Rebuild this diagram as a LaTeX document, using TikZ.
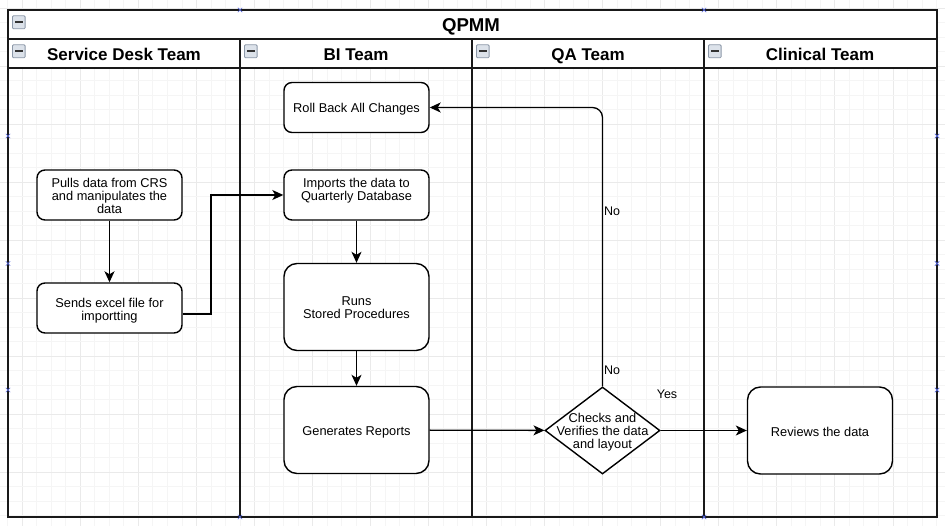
\documentclass[tikz,border=0pt]{standalone}
\usepackage{fontspec}
\setmainfont{Liberation Sans}
\usetikzlibrary{arrows.meta,shapes.geometric}
\definecolor{gridminor}{HTML}{F5F5F5}
\definecolor{gridmajor}{HTML}{EAEAEA}
\definecolor{selx}{HTML}{5566DD}
\definecolor{iconborder}{HTML}{8C98A8}
\definecolor{iconfill}{HTML}{DCE2EA}
\tikzset{
  proc/.style={draw=black, fill=white, line width=1.4pt, rounded corners=8pt,
    inner sep=0pt, minimum width=145pt, minimum height=50pt},
  bigproc/.style={proc, rounded corners=13pt, minimum height=87pt},
  decision/.style={diamond, draw=black, fill=white, line width=1.4pt, inner sep=0pt,
    minimum width=115pt, minimum height=87pt},
  txt/.style={align=center, font=\fontsize{12.8}{13}\selectfont, inner sep=0pt},
  lanetitle/.style={font=\fontsize{17}{18}\selectfont\bfseries, inner sep=0pt, anchor=base},
  pooltitle/.style={font=\fontsize{18.6}{20}\selectfont\bfseries, inner sep=0pt, anchor=base},
  edge/.style={line width=1.3pt, -{Stealth[length=11pt,width=10pt,inset=3pt]}},
  lbl/.style={font=\fontsize{12.5}{13}\selectfont, inner sep=0pt},
  poolline/.style={line width=2pt, draw=black!90},
  selmark/.style={draw=selx, line width=0.7pt},
}
\newcommand{\minusicon}[2]{%
  \draw[draw=iconborder, fill=iconfill, line width=0.8pt, rounded corners=1pt] (#1-6.3,#2-6.5) rectangle (#1+6.3,#2+6.5);
  \draw[line width=2pt, black!80] (#1-3.8,#2) -- (#1+3.8,#2);}
\newcommand{\selx}[2]{%
  \draw[selmark] (#1-2.2,#2-2.2) -- (#1+2.2,#2+2.2) (#1-2.2,#2+2.2) -- (#1+2.2,#2-2.2);}
\begin{document}
\begin{tikzpicture}[x=1pt,y=-1pt]
\useasboundingbox (0,0) rectangle (945,526);
\fill[white] (0,0) rectangle (945,526);
% grid
\foreach \i in {0,...,65} {
  \pgfmathtruncatemacro{\m}{mod(\i,4)}
  \ifnum\m=1 \draw[gridmajor, line width=0.8pt] (7.79+14.51*\i,0) -- (7.79+14.51*\i,526);
  \else \draw[gridminor, line width=0.8pt] (7.79+14.51*\i,0) -- (7.79+14.51*\i,526); \fi
}
\foreach \j in {0,...,36} {
  \pgfmathtruncatemacro{\m}{mod(\j,4)}
  \ifnum\m=0 \draw[gridmajor, line width=0.8pt] (0,8.3+14.5*\j) -- (945,8.3+14.5*\j);
  \else \draw[gridminor, line width=0.8pt] (0,8.3+14.5*\j) -- (945,8.3+14.5*\j); \fi
}
% pool
\fill[white] (8,10) rectangle (937,68);
\draw[poolline] (8,10) rectangle (937,517);
\draw[poolline] (8,39) -- (937,39);
\draw[poolline] (8,68) -- (937,68);
\draw[poolline] (240,39) -- (240,517);
\draw[poolline] (472,39) -- (472,517);
\draw[poolline] (704,39) -- (704,517);
\node[pooltitle] (title) at (471,32) {QPMM};
\node[lanetitle] (lane1) at (124,61) {Service Desk Team};
\node[lanetitle] (lane2) at (356,61) {BI Team};
\node[lanetitle] (lane3) at (588,61) {QA Team};
\node[lanetitle] (lane4) at (820,61) {Clinical Team};
\minusicon{18.8}{22.3}
\minusicon{18.8}{51.3}
\minusicon{250.8}{51.3}
\minusicon{482.8}{51.3}
\minusicon{714.8}{51.3}
% nodes
\node[proc] (pulls) at (109.5,195) {};
\node[txt] (pullsT) at ([yshift=-0.7pt]pulls.center) {Pulls data from CRS\\and manipulates the\\data};
\node[proc] (sends) at (109.5,308) {};
\node[txt] (sendsT) at ([yshift=-2.5pt]sends.center) {Sends excel file for\\importting};
\node[proc] (roll) at (356.5,107.5) {};
\node[txt] (rollT) at ([yshift=-1.5pt]roll.center) {Roll Back All Changes};
\node[proc] (imports) at (356.5,195) {};
\node[txt] (importsT) at ([yshift=4.3pt]imports.center) {Imports the data to\\Quarterly Database};
\node[bigproc] (runs) at (356.5,307) {};
\node[txt] (runsT) at ([yshift=-1pt]runs.center) {Runs\\Stored Procedures};
\node[bigproc] (gen) at (356.5,430) {};
\node[txt] (genT) at ([yshift=-2pt]gen.center) {Generates Reports};
\node[decision] (dia) at (602.5,430.5) {};
\node[txt] (diaT) at ([yshift=-2pt]dia.center) {Checks and\\Verifies the data\\and layout};
\node[bigproc] (rev) at (820,430.5) {};
\node[txt] (revT) at ([yshift=-1.5pt]rev.center) {Reviews the data};
% edges
\coordinate (bend1) at (211,195);
\draw[edge] (pulls) -- (sends);
\draw[edge] ([yshift=-6pt]sends.east) -| (bend1) -- (imports.west);
\draw[edge] (imports) -- (runs);
\draw[edge] (runs) -- (gen);
\draw[edge] (gen) -- (dia);
\draw[edge] (dia) -- (rev);
\draw[edge, rounded corners=10pt] (dia.north) |- (roll.east);
\node[lbl] (no1) at (612,211) {No};
\node[lbl] (no2) at (612,370.5) {No};
\node[lbl] (yes) at (667,394.5) {Yes};
% selection markers
\selx{240}{10}
\selx{704}{10}
\selx{240}{517}
\selx{704}{517}
\selx{8}{136}
\selx{8}{263.5}
\selx{8}{390}
\selx{937}{136}
\selx{937}{263.5}
\selx{937}{390}
\end{tikzpicture}
\end{document}
